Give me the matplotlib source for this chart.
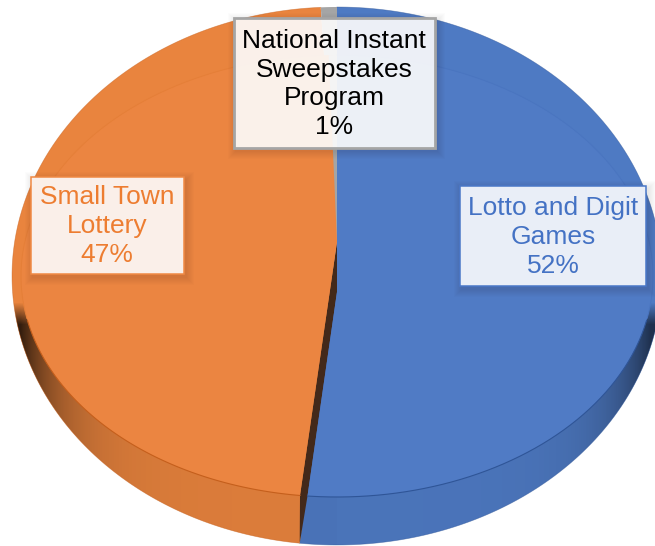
import numpy as np
import matplotlib
matplotlib.use("Agg")
import matplotlib.pyplot as plt
from matplotlib.patches import Rectangle, Polygon
from matplotlib.path import Path

categories = ["Lotto and Digit\nGames", "Small Town\nLottery", "National Instant\nSweepstakes\nProgram"]
values = [51.6, 47.49, 0.91]
percent_labels = ["52%", "47%", "1%"]
face_colors = ["#507BC5", "#EB8541", "#A5A5A5"]
rim_colors = ["#4E7AC3", "#E9843E", "#A5A5A5"]
text_colors = ["#4472C4", "#ED7D31", "#000000"]
box_edges = ["#4A78C8", "#F08A45", "#A5A5A5"]
box_fills = ["#E9EEF7", "#FAEFE9", None]
box_extents = [(460, 186, 646, 286), (31, 177, 184, 274), (234, 18, 435, 148)]
label_centers = [(553, 237), (107, 226), (334, 84)]

W, H = 655, 546
plt.rcParams["font.family"] = ["Liberation Sans", "DejaVu Sans"]
fig = plt.figure(figsize=(W / 100, H / 100), dpi=100)
ax = fig.add_axes([0, 0, 1, 1])


def make_proj(cx, top, bottom, apex, half_w):
    up, dn = apex - top, bottom - apex
    k = (dn - up) / (dn + up)
    b = up * (1 + k)
    a = half_w * np.sqrt(1 - k * k)

    def proj(deg):
        t = np.radians(deg)
        x, y = np.cos(t), np.sin(t)
        w = 1 + k * y
        return cx + a * x / w, apex - b * y / w
    proj.apex = (cx, apex)
    return proj


outer = make_proj(337, 7, 545, 240, 325)
inner_o = make_proj(337, 55, 497, 242, 316)
inner_b = make_proj(337, 55, 497, 292, 316)
inner_g = make_proj(337, 55, 497, 242, 170)


def pie_layer(colors, projs, z, which=(0, 1, 2), close_top=False):
    wedges, _ = ax.pie(values, colors=colors, startangle=90, counterclock=False,
                       radius=1, frame=False, wedgeprops={"linewidth": 0})
    for i, w in enumerate(wedges):
        if i not in which:
            w.set_visible(False)
            continue
        p = projs[i]
        t1, t2 = w.theta1, w.theta2
        if close_top and i == 1:
            t1 = t1 - 3.6 * values[2]
        th = np.linspace(t1, t2, 200)
        px, py = p(th)
        ax0, ay0 = p.apex
        verts = np.column_stack([np.r_[ax0, px, ax0], np.r_[ay0, py, ay0]])
        codes = [Path.MOVETO] + [Path.LINETO] * (len(verts) - 2) + [Path.CLOSEPOLY]
        w._path = Path(verts, codes)
        w.set_zorder(z)
    return wedges


# outer silhouette (rim + wall)
pie_layer(rim_colors, [outer] * 3, 1)

# shading of the side wall
xx, yy = np.meshgrid(np.arange(W), np.arange(H))
left = 0.72 * np.exp(-np.clip(xx - 20, 0, None) / 38.0) + 0.06
right = 0.55 * np.exp(-np.clip(650 - xx, 0, None) / 36.0) + 0.05
alpha = np.where(xx < 337, left, right) * np.clip((yy - 302) / 22.0, 0, 1)
rgba = np.zeros((H, W, 4))
rgba[..., 3] = alpha
img = ax.imshow(rgba, extent=(0, W, H, 0), aspect="auto", zorder=2, interpolation="bilinear")
ex, ey = outer(np.linspace(0, 360, 400))
img.set_clip_path(Polygon(np.column_stack([ex, ey]), closed=True, transform=ax.transData))

# dark gap between the slices
cum = np.cumsum(values)
ang = np.array([90 - 3.6 * cum[0]])
ox, oy = inner_o(ang)
bx, by = inner_b(ang)
tx, ty = outer(ang)
ax.add_patch(Polygon([inner_o.apex, (ox[0], oy[0]), (tx[0], ty[0]), (bx[0], by[0]), inner_b.apex],
                     closed=True, fc="#43291A", ec="none", zorder=3))

# top face
pie_layer(face_colors, [inner_b, inner_o, inner_g], 4, which=(1,), close_top=True)
pie_layer(face_colors, [inner_b, inner_o, inner_g], 5, which=(0, 2))

# rim seams and edges
seam = [(90, 90 - 3.6 * cum[0], "#2F5597", "#4A75C0", inner_b),
        (90 - 3.6 * cum[0], 90 - 3.6 * cum[1], "#C55F1C", "#E57F38", inner_o)]
for t1, t2, low, high, p in seam:
    th = np.linspace(t1, t2, 300)
    px, py = p(th)
    lower = py > 320
    ax.plot(px[~lower], py[~lower], color=high, lw=0.7, zorder=6)
    ax.plot(px[lower], py[lower], color=low, lw=0.8, zorder=6)
    qx, qy = outer(th)
    ax.plot(qx, qy, color=low, lw=0.5, alpha=0.5, zorder=6)

# labels
for name, pct, col, ec, fc, ext, c in zip(categories, percent_labels, text_colors,
                                          box_edges, box_fills, box_extents, label_centers):
    x0, y0, x1, y1 = ext
    for i in range(8, 0, -1):
        ax.add_patch(Rectangle((x0 - i + 2, y0 - i + 3), x1 - x0 + 2 * i, y1 - y0 + 2 * i,
                               fc="black", ec="none", alpha=0.012, zorder=7))
    if fc is None:
        ax.add_patch(Rectangle((x0, y0), x1 - x0, y1 - y0, fc="white", ec="none",
                               alpha=0.9, zorder=8))
        ax.add_patch(Rectangle((x0, y0), x1 - x0, y1 - y0, fc="none", ec=ec, lw=2.0, zorder=9))
    else:
        ax.add_patch(Rectangle((x0, y0), x1 - x0, y1 - y0, fc=fc, ec=ec, lw=1.1, zorder=8))
    ax.text(c[0], c[1], name + "\n" + pct, color=col, fontsize=19, ha="center", va="center",
            linespacing=1.24, zorder=10)

ax.set_aspect("auto")
ax.set_xlim(0, W)
ax.set_ylim(H, 0)
ax.axis("off")
fig.savefig("out.png", dpi=100, facecolor="white")
